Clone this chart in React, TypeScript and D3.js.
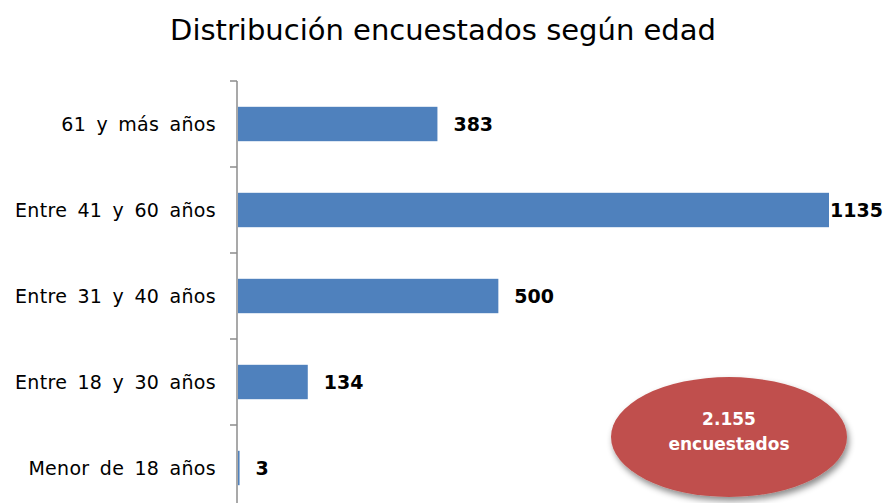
import { useRef, useEffect } from "react";
import * as d3 from "d3";

const categories: string[] = [
  "61 y más años",
  "Entre 41 y 60 años",
  "Entre 31 y 40 años",
  "Entre 18 y 30 años",
  "Menor de 18 años",
];
const values: number[] = [383, 1135, 500, 134, 3];
const totalLines: string[] = ["2.155", "encuestados"];

const width = 886;
const height = 503;
const font = "'DejaVu Sans', sans-serif";

const App = () => {
  const svgRef = useRef<SVGSVGElement>(null);

  useEffect(() => {
    const svg: any = d3.select(svgRef.current);
    svg.selectAll("*").remove();

    const margin = { top: 81, left: 237 };
    const y = d3.scaleBand()
      .domain(categories)
      .range([margin.top, margin.top + 86 * categories.length])
      .paddingInner(0.6)
      .paddingOuter(0.3);
    const x = d3.scaleLinear()
      .domain([0, 1135])
      .range([margin.left + 1, 829]);

    svg.append("text")
      .attr("x", 443)
      .attr("y", 40)
      .attr("text-anchor", "middle")
      .style("font-family", font)
      .style("font-size", "29px")
      .attr("fill", "#000")
      .text("Distribución encuestados según edad");

    // axis
    const axis = svg.append("g");
    axis.append("line")
      .attr("x1", margin.left).attr("x2", margin.left)
      .attr("y1", margin.top).attr("y2", height)
      .attr("stroke", "#8c8c8c").attr("stroke-width", 1.5);
    const tickYs = d3.range(categories.length + 1).map(i => margin.top + 86 * i);
    axis.selectAll(".tick")
      .data(tickYs)
      .join("line")
      .attr("x1", margin.left - 7).attr("x2", margin.left)
      .attr("y1", (d: number) => d).attr("y2", (d: number) => d)
      .attr("stroke", "#8c8c8c").attr("stroke-width", 1.5);

    axis.selectAll(".lab")
      .data(categories)
      .join("text")
      .attr("x", 216)
      .attr("y", (d: string) => (y(d) as number) + y.bandwidth() / 2)
      .attr("dy", "0.35em")
      .attr("text-anchor", "end")
      .style("font-family", font)
      .style("font-size", "19px")
      .style("word-spacing", "4px")
      .style("letter-spacing", "0.3px")
      .attr("fill", "#000")
      .text((d: string) => d);

    svg.selectAll(".bar")
      .data(values)
      .join("rect")
      .attr("x", x(0))
      .attr("y", (_: number, i: number) => y(categories[i]) as number)
      .attr("width", (d: number) => Math.max(x(d) - x(0), 1))
      .attr("height", y.bandwidth())
      .attr("fill", "#4F81BD");

    svg.selectAll(".val")
      .data(values)
      .join("text")
      .attr("x", (d: number) => Math.min(x(d) + 16, 830))
      .attr("y", (_: number, i: number) => (y(categories[i]) as number) + y.bandwidth() / 2)
      .attr("dy", "0.35em")
      .style("font-family", font)
      .style("font-size", "19px")
      .style("font-weight", "bold")
      .attr("fill", "#000")
      .text((d: number) => String(d));

    // total bubble
    const defs = svg.append("defs");
    const f = defs.append("filter").attr("id", "sh").attr("x", "-20%").attr("y", "-20%").attr("width", "140%").attr("height", "150%");
    f.append("feDropShadow").attr("dx", 2).attr("dy", 4).attr("stdDeviation", 3).attr("flood-color", "#000").attr("flood-opacity", 0.45);
    svg.append("ellipse")
      .attr("cx", 729).attr("cy", 437)
      .attr("rx", 118).attr("ry", 60)
      .attr("fill", "#C0504D")
      .attr("filter", "url(#sh)");
    svg.selectAll(".tot")
      .data(totalLines)
      .join("text")
      .attr("x", 729)
      .attr("y", (_: string, i: number) => 425 + i * 25)
      .attr("text-anchor", "middle")
      .style("font-family", font)
      .style("font-size", "17px")
      .style("font-weight", "bold")
      .attr("fill", "#fff")
      .text((d: string) => d);
  }, []);

  return (
    <svg ref={svgRef} width={width} height={height}
      style={{ position: "absolute", top: 0, left: 0, background: "#fff" }} />
  );
};

export default App;
